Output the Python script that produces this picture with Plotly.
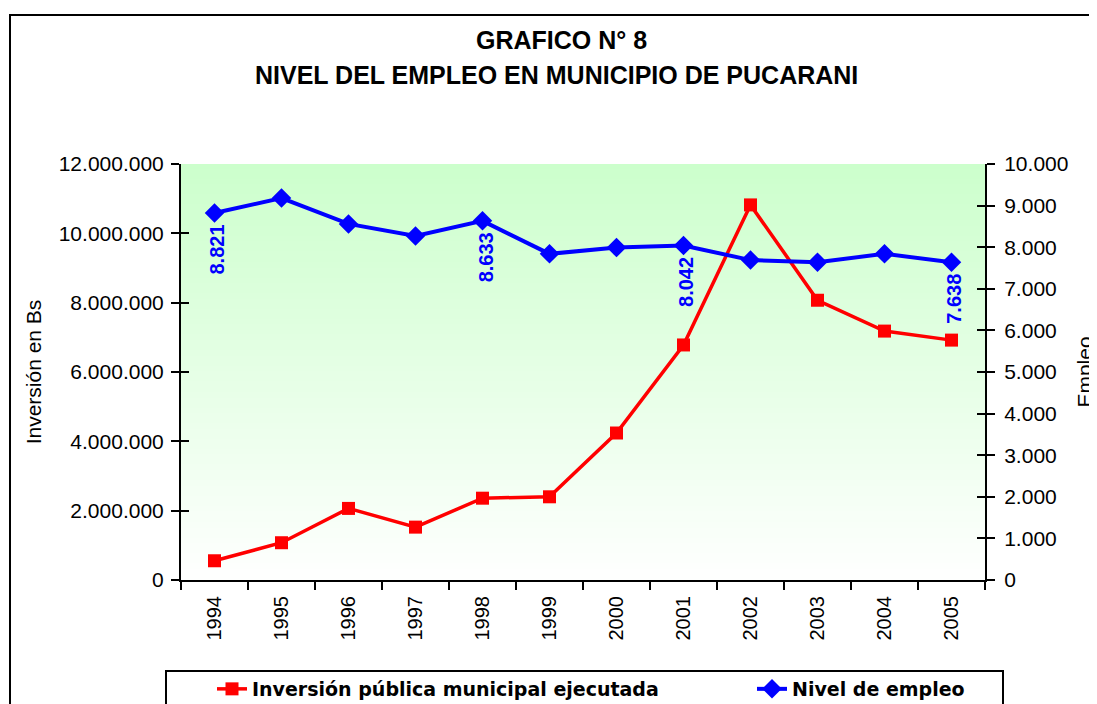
import plotly.graph_objects as go

years = ["1994", "1995", "1996", "1997", "1998", "1999", "2000", "2001", "2002", "2003", "2004", "2005"]
inversion = [555000, 1075000, 2065000, 1525000, 2360000, 2400000, 4240000, 6780000, 10820000, 8070000, 7180000, 6920000]
empleo = [8821, 9180, 8560, 8270, 8633, 7840, 7990, 8042, 7690, 7640, 7840, 7638]
label_years = ["1994", "1998", "2001", "2005"]
label_values = [8821, 8633, 8042, 7638]

W, H = 1097, 704
OFF = 8  # page body margin offset
L, R, T, B = 181, 985, 164, 580  # plot area in screen pixels
pw, ph = R - L, B - T

def px(x):
    return (x - L) / pw

def py(y):
    return (B - y) / ph

FONT = "Arial, Liberation Sans, sans-serif"
LFONT = "DejaVu Sans, Arial, sans-serif"

fig = go.Figure()
fig.add_trace(go.Scatter(
    x=years, y=inversion, name="<b>Inversión pública municipal ejecutada</b>",
    mode="lines+markers", line=dict(color="#FF0000", width=3.5),
    marker=dict(symbol="square", size=13, color="#FF0000"),
    yaxis="y", legend="legend"))
fig.add_trace(go.Scatter(
    x=years, y=empleo, name="<b>Nivel de empleo</b>",
    mode="lines+markers", line=dict(color="#0000FF", width=4),
    marker=dict(symbol="diamond", size=15, color="#0000FF"),
    yaxis="y2", legend="legend2"))
# empty traces so the overlay axes draw their inside tick marks
fig.add_trace(go.Scatter(x=[years[0]], y=[None], yaxis="y3", showlegend=False, hoverinfo="skip"))
fig.add_trace(go.Scatter(x=[years[0]], y=[None], yaxis="y4", showlegend=False, hoverinfo="skip"))

shapes = []
n = 80
for i in range(n):
    t = i / n
    c = int(round(204 + (255 - 204) * t))
    shapes.append(dict(type="rect", xref="paper", yref="paper",
                       x0=0, x1=1, y0=1 - (i + 1) / n, y1=min(1, 1 - i / n + 0.002),
                       fillcolor=f"rgb({c},255,{c})", line=dict(width=0), layer="below"))
shapes.append(dict(type="rect", xref="paper", yref="paper",
                   x0=px(10), x1=px(1110), y0=py(720), y1=py(15),
                   line=dict(color="black", width=2), fillcolor="rgba(0,0,0,0)"))
shapes.append(dict(type="rect", xref="paper", yref="paper",
                   x0=px(166), x1=px(1003), y0=py(720), y1=py(671),
                   line=dict(color="black", width=2), fillcolor="rgba(0,0,0,0)"))

annotations = [
    dict(text="<b>GRAFICO N° 8</b>", xref="paper", yref="paper", x=px(561), y=py(40),
         showarrow=False, font=dict(size=25, color="black", family=FONT), xanchor="center", yanchor="middle"),
    dict(text="<b>NIVEL DEL EMPLEO EN MUNICIPIO DE PUCARANI</b>", xref="paper", yref="paper",
         x=px(556), y=py(75), showarrow=False, font=dict(size=25, color="black", family=FONT),
         xanchor="center", yanchor="middle"),
]
for yr, v in zip(label_years, label_values):
    annotations.append(dict(
        text="<b>" + f"{v:,}".replace(",", ".") + "</b>", x=years.index(yr), y=v, xref="x", yref="y2",
        showarrow=False, textangle=-90, yanchor="top", xanchor="center", yshift=-10, xshift=3,
        font=dict(size=20, color="#0000FF", family=FONT)))

tickfont = dict(size=21, color="black", family=FONT)

fig.update_layout(
    width=W, height=H,
    margin=dict(l=L - OFF, r=W - (R - OFF), t=T - OFF, b=H - (B - OFF), pad=0, autoexpand=False),
    paper_bgcolor="white", plot_bgcolor="rgba(0,0,0,0)",
    separators=",.",
    font=dict(family=FONT, color="black"),
    showlegend=True,
    shapes=shapes, annotations=annotations,
    xaxis=dict(type="category", range=[-0.5, 11.5], tickson="boundaries", ticks="outside",
               ticklen=8, tickwidth=2, tickcolor="black", showline=True, linecolor="black",
               linewidth=2, showgrid=False, tickangle=-90, ticklabelstandoff=6,
               tickfont=dict(size=20, color="black", family=FONT), zeroline=False),
    yaxis=dict(range=[0, 12000000], dtick=2000000, tickformat=",d", ticks="outside", ticklen=8,
               tickwidth=2, tickcolor="black", showline=True, linecolor="black", linewidth=2,
               showgrid=False, zeroline=False, tickfont=tickfont, ticklabelstandoff=3, automargin=False,
               title=dict(text="Inversión en Bs", font=dict(size=21, color="black", family=FONT), standoff=11)),
    yaxis2=dict(range=[0, 10000], dtick=1000, tickformat=",d", overlaying="y", side="right",
                ticks="outside", ticklen=8, tickwidth=2, tickcolor="black", showline=True,
                linecolor="black", linewidth=2, showgrid=False, zeroline=False, tickfont=tickfont,
                ticklabelstandoff=5, automargin=False,
                title=dict(text="Empleo", font=dict(size=21, color="black", family=FONT), standoff=10)),
    yaxis3=dict(range=[0, 12000000], dtick=2000000, overlaying="y", side="left", ticks="inside",
                ticklen=8, tickwidth=2, tickcolor="black", showticklabels=False, showgrid=False,
                zeroline=False, showline=False, automargin=False),
    yaxis4=dict(range=[0, 10000], dtick=1000, overlaying="y", side="right", ticks="inside",
                ticklen=8, tickwidth=2, tickcolor="black", showticklabels=False, showgrid=False,
                zeroline=False, showline=False, automargin=False),
    legend=dict(x=px(212), y=py(670), xanchor="left", yanchor="top", orientation="h",
                bgcolor="rgba(0,0,0,0)", borderwidth=0,
                font=dict(size=19, color="black", family=LFONT)),
    legend2=dict(x=px(752), y=py(670), xanchor="left", yanchor="top", orientation="h",
                 bgcolor="rgba(0,0,0,0)", borderwidth=0,
                 font=dict(size=19, color="black", family=LFONT)),
)

fig.write_html("out.html")
